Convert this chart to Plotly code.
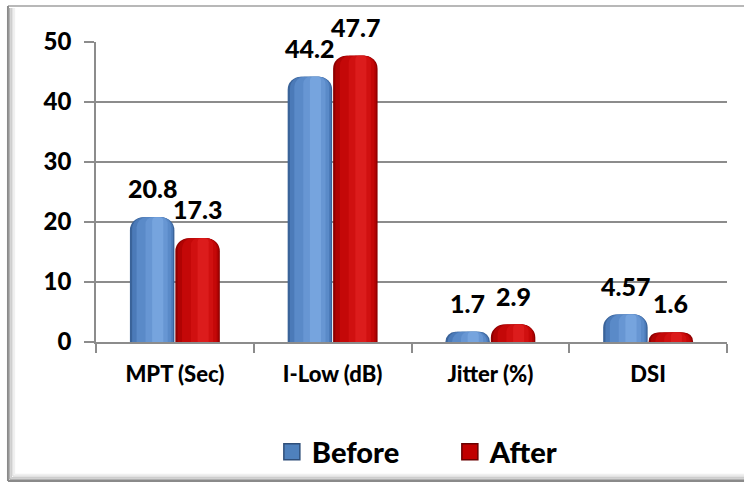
import plotly.graph_objects as go

# Voice measures before and after therapy
categories = ["MPT (Sec)", "I-Low (dB)", "Jitter (%)", "DSI"]
before = [20.8, 44.2, 1.7, 4.57]
after = [17.3, 47.7, 2.9, 1.6]
y_ticks = [0, 10, 20, 30, 40, 50]

FONT = "Lato"
x_pos = list(range(len(categories)))

BAR_W = 0.282
OFFSETS = {"Before": -0.285, "After": 0.003}

# shading bands for a cylinder look: (left fraction, right fraction, colour)
BANDS = {
    "Before": [
        (0.00, 1.00, "#3A6399"),
        (0.05, 0.97, "#4B7AB8"),
        (0.15, 0.93, "#5A8AC8"),
        (0.35, 0.85, "#6796D3"),
        (0.50, 0.75, "#76A4DE"),
    ],
    "After": [
        (0.00, 1.00, "#8E0000"),
        (0.05, 0.97, "#B00303"),
        (0.15, 0.93, "#C40808"),
        (0.35, 0.85, "#D01010"),
        (0.50, 0.75, "#DC1C1C"),
    ],
}
LEGEND_COLOR = {"Before": "#4F81BD", "After": "#C00000"}
LEGEND_EDGE = {"Before": "#2F4F7A", "After": "#6A0000"}

fig = go.Figure()
for name, values in (("Before", before), ("After", after)):
    for i, (f0, f1, col) in enumerate(BANDS[name]):
        fig.add_trace(go.Bar(
            x=x_pos, y=values, name=name,
            offset=OFFSETS[name] + f0 * BAR_W,
            width=(f1 - f0) * BAR_W,
            marker=dict(color=col, line=dict(width=0),
                        cornerradius=max(4, int(13 * (f1 - f0) ** 0.8))),
            showlegend=False, hoverinfo="skip",
        ))
    # legend entry: square key
    fig.add_trace(go.Scatter(
        x=[None], y=[None], name=name, mode="markers",
        marker=dict(symbol="square", size=16, color=LEGEND_COLOR[name],
                    line=dict(color=LEGEND_EDGE[name], width=1.5)),
        showlegend=True,
    ))

# value labels above each bar
for name, values in (("Before", before), ("After", after)):
    for xi, v in zip(x_pos, values):
        fig.add_annotation(
            x=xi + OFFSETS[name] + BAR_W / 2, y=v, text=f"{v:g}",
            showarrow=False, yanchor="bottom", yshift=12,
            font=dict(family=FONT, size=25, color="black", weight=900),
        )

# outer chart frame: top edge, left and bottom edges with a soft shadow
X0, Y0, Y1, XR = -0.1395, -0.463, 1.12, 1.027
fig.add_shape(type="line", xref="paper", yref="paper", layer="below",
              x0=X0, x1=XR, y0=Y1, y1=Y1, line=dict(color="#A0A0A0", width=1.5))
fig.add_shape(type="line", xref="paper", yref="paper", layer="below",
              x0=X0, x1=X0, y0=Y0, y1=Y1, line=dict(color="#8A8A8A", width=2))
fig.add_shape(type="line", xref="paper", yref="paper", layer="below",
              x0=X0, x1=XR, y0=Y0, y1=Y0, line=dict(color="#8A8A8A", width=2))
for k, c in enumerate(["#B0B0B0", "#CDCDCD", "#E2E2E2", "#F0F0F0"]):
    d = (k + 1) * 1.6
    fig.add_shape(type="line", xref="paper", yref="paper",
                  x0=X0 + d / 631, x1=X0 + d / 631,
                  y0=Y0 + d / 300, y1=Y1 - 2 / 300,
                  line=dict(color=c, width=1.6), layer="below")
    fig.add_shape(type="line", xref="paper", yref="paper",
                  x0=X0 + d / 631, x1=XR,
                  y0=Y0 + d / 300, y1=Y0 + d / 300,
                  line=dict(color=c, width=1.6), layer="below")

fig.update_layout(
    width=751, height=485,
    margin=dict(l=96, r=24, t=42, b=143),
    paper_bgcolor="white", plot_bgcolor="white",
    barmode="overlay",
    font=dict(family=FONT, color="black"),
    legend=dict(orientation="h", xref="container", yref="container",
                x=0.599, y=0.068, xanchor="center", yanchor="middle",
                font=dict(family=FONT, size=29, color="black", weight=900),
                itemwidth=30, entrywidth=133, bgcolor="rgba(0,0,0,0)"),
    xaxis=dict(
        range=[-0.5, 3.5], tickvals=x_pos, ticktext=categories,
        ticks="", showgrid=False, zeroline=False,
        showline=True, linecolor="#8C8C8C", linewidth=1.5,
        tickfont=dict(family=FONT, size=22, color="black", weight=900),
        ticklabelstandoff=12,
        minor=dict(tick0=-0.5, dtick=1, ticks="outside", ticklen=9,
                   tickcolor="#8C8C8C", tickwidth=1.5, showgrid=False),
    ),
    yaxis=dict(
        range=[0, 50], tickvals=y_ticks, ticks="outside", ticklen=10,
        tickcolor="#8C8C8C", tickwidth=1.5,
        showgrid=True, gridcolor="#8C8C8C", gridwidth=1.5,
        showline=True, linecolor="#8C8C8C", linewidth=1.5, zeroline=False,
        tickfont=dict(family=FONT, size=24, color="black", weight=900),
        ticklabelstandoff=8,
    ),
)

fig.write_html("out.html")
